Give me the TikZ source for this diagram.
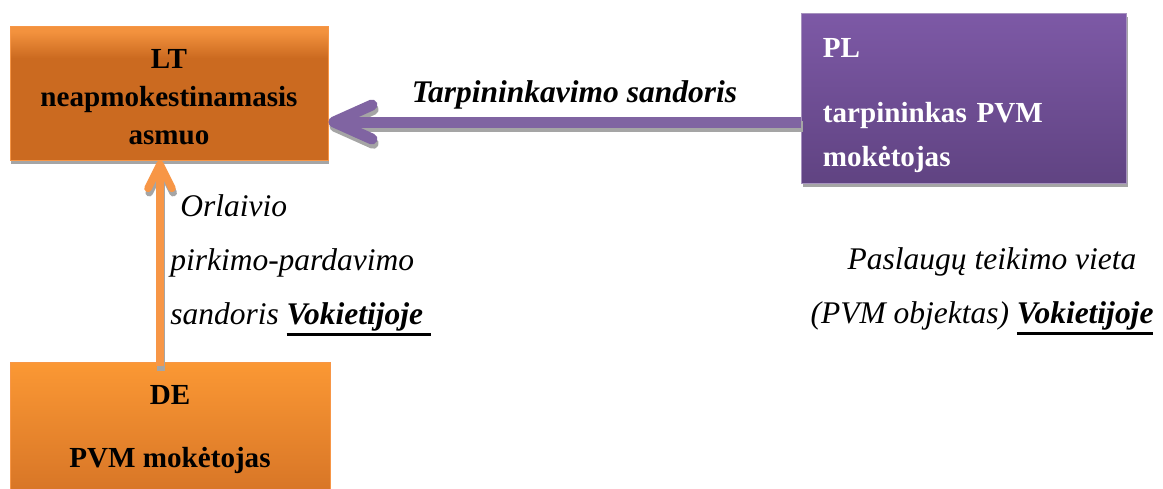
\documentclass[tikz,border=0pt]{standalone}
\usepackage{fontspec}
\setmainfont{Liberation Serif}
\usetikzlibrary{arrows.meta,shadows}

\definecolor{ltlight}{RGB}{243,146,62}
\definecolor{ltdark}{RGB}{203,106,32}
\definecolor{delight}{RGB}{251,152,52}
\definecolor{dedark}{RGB}{214,116,38}
\definecolor{pltop}{RGB}{125,89,166}
\definecolor{plbottom}{RGB}{96,67,130}
\definecolor{orangeline}{RGB}{247,150,70}
\definecolor{purpleline}{RGB}{128,100,162}
\definecolor{shadowgray}{RGB}{165,165,165}

\pgfdeclareverticalshading{ltshading}{100bp}{color(0bp)=(ltdark); color(25bp)=(ltdark); color(63bp)=(ltdark); color(73bp)=(ltlight); color(100bp)=(ltlight)}

\newsavebox\ulbox
\newcommand{\ulbold}[1]{\sbox\ulbox{\bfseries #1}\rlap{\rule[-0.29cm]{\wd\ulbox}{0.075cm}}\usebox\ulbox}

\begin{document}
\begin{tikzpicture}[
    box/.style={draw, line width=0.7pt, font=\fontsize{20.7}{27}\selectfont\bfseries,
      drop shadow={shadow xshift=0.03cm, shadow yshift=-0.11cm, fill=shadowgray, opacity=1}},
    italictext/.style={inner sep=0pt, font=\fontsize{22.4}{38.5}\selectfont\itshape},
    orangearrow/.style={line width=0.19cm, draw=orangeline, -{Straight Barb[round, length=0.6cm, width=0.6cm]}},
    purplearrow/.style={line width=0.275cm, draw=purpleline, -{Straight Barb[round, length=0.95cm, width=0.85cm]}},
    arrowshadow/.style={draw=shadowgray, transform canvas={shift={(0.03cm,-0.11cm)}}}
  ]
    \useasboundingbox (0,0) rectangle (29.075,-12.2);

    % boxes
    \node[box, draw=orangeline, shade, shading=ltshading, minimum width=7.95cm, minimum height=3.35cm, align=center] (lt) at (4.225,-2.325) {\rule{0pt}{0.68cm}LT\\neapmokestinamasis\\asmuo};
    \node[box, draw=purpleline!70!white, top color=pltop, bottom color=plbottom, text=white,
      font=\fontsize{20.7}{31.3}\selectfont\bfseries, inner xsep=0.525cm, text width=7.075cm,
      minimum height=4.25cm, align=left] (pl) at (24.11,-2.45) {\rule{0pt}{0.83cm}PL\\[0.525cm]tarpininkas PVM\\mokėtojas};
    \node[box, draw=orangeline, top color=delight, bottom color=dedark, minimum width=8cm, minimum height=3.4cm, align=center] (de) at (4.25,-10.75) {DE\\[0.625cm]PVM mokėtojas};

    % connectors
    \draw[purplearrow, arrowshadow] ([yshift=-0.6cm]pl.west) -- ([yshift=-0.6cm]pl.west -| lt.east);
    \draw[purplearrow] ([yshift=-0.6cm]pl.west) -- ([yshift=-0.6cm]pl.west -| lt.east)
      node[pos=0.48, above=0.07cm, font=\fontsize{22.4}{30}\selectfont\bfseries\itshape] (deal) {Tarpininkavimo sandoris};
    \draw[orangearrow, arrowshadow] ([xshift=-0.25cm, yshift=-0.12cm]de.north) -- ([xshift=-0.25cm]de.north |- lt.south);
    \draw[orangearrow] ([xshift=-0.25cm, yshift=-0.12cm]de.north) -- ([xshift=-0.25cm]de.north |- lt.south);

    % side texts
    \node[italictext, anchor=north west, align=left] (sale) at (4.25,-4.85) {\hspace*{0.25cm}Orlaivio\\pirkimo-pardavimo\\sandoris \ulbold{Vokietijoje\ }};
    \node[italictext, anchor=north, align=center] (place) at (24.55,-6.19) {\hspace*{0.5cm}Paslaugų teikimo vieta\\(PVM objektas) \ulbold{Vokietijoje}};
\end{tikzpicture}
\end{document}
